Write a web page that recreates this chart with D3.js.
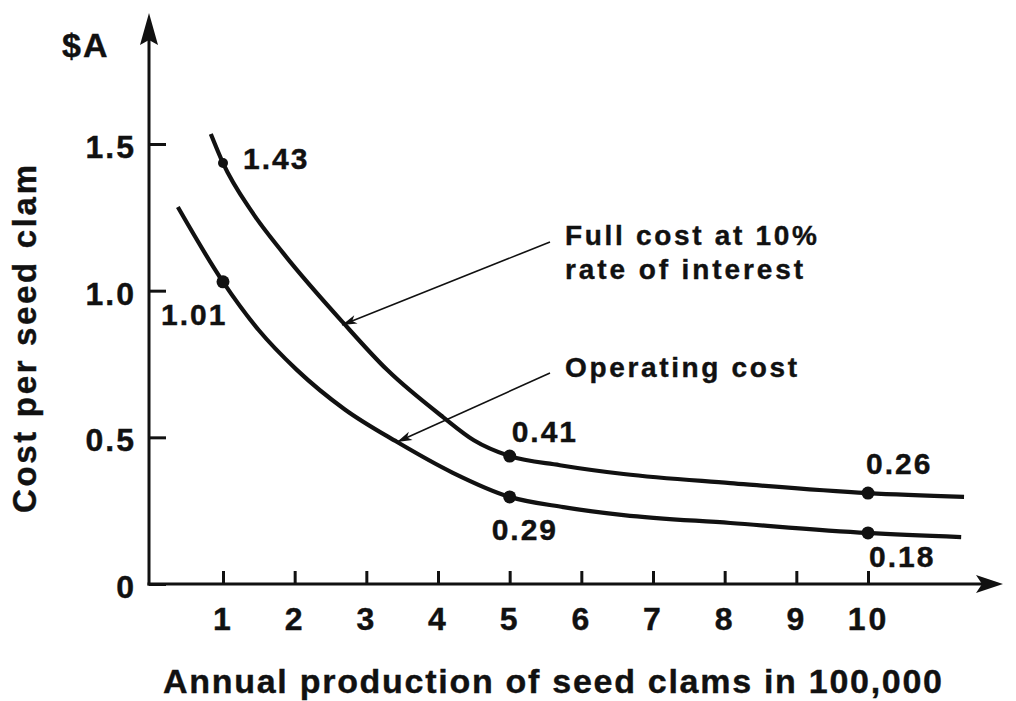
<!DOCTYPE html>
<html>
<head>
<meta charset="utf-8">
<script src="https://cdn.jsdelivr.net/npm/d3@7/dist/d3.min.js"></script>
<style>
  html, body { margin: 0; padding: 0; background: #fff; }
  svg { display: block; }
  text { font-family: "Liberation Sans", Arial, Helvetica, sans-serif; font-weight: bold; fill: #111; stroke: #111; stroke-width: 0.4; }
</style>
</head>
<body>
<svg id="chart" width="1016" height="701"></svg>
<script>
// ---- data ----
const xTicks = [1, 2, 3, 4, 5, 6, 7, 8, 9, 10];
const yTicks = [0, 0.5, 1.0, 1.5];
const yTickLabels = ["0", "0.5", "1.0", "1.5"];

// Full cost at 10% rate of interest (curve trace)
const fullX = [0.83, 1, 1.4, 1.84, 2.68, 3.29, 4.07, 4.5, 5, 5.7, 6.59, 8.08, 10, 11.34];
const fullY = [1.534, 1.435, 1.27, 1.128, 0.890, 0.730, 0.569, 0.49, 0.436, 0.405, 0.375, 0.344, 0.31, 0.297];
// Operating cost (curve trace)
const opX = [0.37, 1, 1.5, 2.03, 2.7, 3.43, 4.2, 5, 5.75, 6.59, 8.08, 10, 11.3];
const opY = [1.285, 1.03, 0.865, 0.730, 0.595, 0.484, 0.38, 0.297, 0.262, 0.235, 0.208, 0.174, 0.16];

// labelled points
const markX = [1, 5, 10];
const fullMarkY = [1.435, 0.436, 0.31];
const fullLabels = ["1.43", "0.41", "0.26"];
const opMarkY = [1.03, 0.297, 0.174];
const opLabels = ["1.01", "0.29", "0.18"];

const yTitle = "Cost per seed clam";
const xTitle = "Annual production of seed clams in 100,000";
const unitLabel = "$A";
const fullNote = ["Full cost at 10%", "rate of interest"];
const opNote = "Operating cost";

// ---- drawing ----
const svg = d3.select("#chart");
const ink = "#111";
const FONT = "'Liberation Sans', Arial, sans-serif";

const x = d3.scaleLinear().domain([1, 10]).range([223, 868]);
const y = d3.scaleLinear().domain([0, 1.5]).range([584, 144]);
const x0 = 149, y0 = 584;

// axes (ticks pointing inward)
const yAxis = d3.axisLeft(y).tickValues(yTicks)
  .tickFormat((d, i) => yTickLabels[i]).tickSizeInner(-17).tickSizeOuter(0).tickPadding(15);
const gy = svg.append("g").attr("transform", `translate(${x0},0)`).call(yAxis);
gy.select(".domain").remove();
gy.selectAll(".tick line").attr("stroke", ink).attr("stroke-width", 3);
gy.selectAll(".tick text").attr("font-size", 32).attr("fill", ink)
  .attr("letter-spacing", 2).attr("dy", "0.42em").attr("dx", 2)
  .style("font-family", FONT).style("font-weight", "bold");

const xAxis = d3.axisBottom(x).tickValues(xTicks).tickFormat(d3.format("d"))
  .tickSizeInner(-13).tickSizeOuter(0).tickPadding(23);
const gx = svg.append("g").attr("transform", `translate(0,${y0})`).call(xAxis);
gx.select(".domain").remove();
gx.selectAll(".tick text").attr("font-size", 32).attr("fill", ink).attr("letter-spacing", 3)
  .attr("dx", 0)
  .style("font-family", FONT).style("font-weight", "bold");
gx.selectAll(".tick line").attr("stroke", ink).attr("stroke-width", 3);

// axis lines with arrowheads
svg.append("line").attr("x1", x0).attr("y1", y0 + 1.5).attr("x2", x0).attr("y2", 30)
  .attr("stroke", ink).attr("stroke-width", 3);
svg.append("path").attr("d", `M${x0},13 L${x0 + 9},45 L${x0},40 L${x0 - 9},45 Z`).attr("fill", ink);
svg.append("line").attr("x1", x0 - 1.5).attr("y1", y0).attr("x2", 990).attr("y2", y0)
  .attr("stroke", ink).attr("stroke-width", 3);
svg.append("path").attr("d", `M1003,${y0} L976,${y0 - 9} L982,${y0} L976,${y0 + 9} Z`).attr("fill", ink);

// curves
const line = d3.line().x(d => x(d[0])).y(d => y(d[1])).curve(d3.curveMonotoneX);
svg.append("path").datum(d3.zip(fullX, fullY)).attr("d", line)
  .attr("fill", "none").attr("stroke", ink).attr("stroke-width", 4.2);
svg.append("path").datum(d3.zip(opX, opY)).attr("d", line)
  .attr("fill", "none").attr("stroke", ink).attr("stroke-width", 4.2);

// markers
svg.selectAll(".mf").data(markX).enter().append("circle")
  .attr("cx", d => x(d)).attr("cy", (d, i) => y(fullMarkY[i]))
  .attr("r", (d, i) => i === 0 ? 5 : 6.5).attr("fill", ink);
svg.selectAll(".mo").data(markX).enter().append("circle")
  .attr("cx", d => x(d)).attr("cy", (d, i) => y(opMarkY[i]))
  .attr("r", 6.5).attr("fill", ink);

// value labels (offsets from their points)
const fullOff = [[20, 6], [2, -14], [-2, -19]];
const opOff = [[-62, 43], [-18, 43], [1, 34]];
svg.selectAll(".lf").data(fullLabels).enter().append("text")
  .attr("x", (d, i) => x(markX[i]) + fullOff[i][0]).attr("y", (d, i) => y(fullMarkY[i]) + fullOff[i][1])
  .attr("font-size", 30).attr("letter-spacing", 2).text(d => d);
svg.selectAll(".lo").data(opLabels).enter().append("text")
  .attr("x", (d, i) => x(markX[i]) + opOff[i][0]).attr("y", (d, i) => y(opMarkY[i]) + opOff[i][1])
  .attr("font-size", 30).attr("letter-spacing", 2).text(d => d);

// annotations
function arrow(x1, y1, x2, y2) {
  svg.append("line").attr("x1", x1).attr("y1", y1).attr("x2", x2).attr("y2", y2)
    .attr("stroke", ink).attr("stroke-width", 1.6);
  const a = Math.atan2(y2 - y1, x2 - x1), L = 15, w = 4.5;
  const bx = x2 - L * Math.cos(a), by = y2 - L * Math.sin(a);
  const nx = -Math.sin(a) * w, ny = Math.cos(a) * w;
  const mx = x2 - (L - 4) * Math.cos(a), my = y2 - (L - 4) * Math.sin(a);
  svg.append("path").attr("d", `M${x2},${y2} L${bx + nx},${by + ny} L${mx},${my} L${bx - nx},${by - ny} Z`)
    .attr("fill", ink);
}
arrow(550, 242, 342, 325);
arrow(550, 373, 397, 442);

svg.append("text").attr("x", 565).attr("y", 245).attr("font-size", 28)
  .attr("textLength", 252).attr("lengthAdjust", "spacing").text(fullNote[0]);
svg.append("text").attr("x", 565).attr("y", 279).attr("font-size", 28)
  .attr("textLength", 238).attr("lengthAdjust", "spacing").text(fullNote[1]);
svg.append("text").attr("x", 565).attr("y", 377).attr("font-size", 28)
  .attr("textLength", 232).attr("lengthAdjust", "spacing").text(opNote);

// titles
svg.append("text").attr("x", 62).attr("y", 57).attr("font-size", 34)
  .attr("letter-spacing", 2).text(unitLabel);
svg.append("text").attr("x", 163).attr("y", 693).attr("font-size", 34)
  .attr("textLength", 779).attr("lengthAdjust", "spacing").text(xTitle);
svg.append("text").attr("transform", "translate(36,513) rotate(-90)").attr("font-size", 33)
  .attr("textLength", 348).attr("lengthAdjust", "spacing").text(yTitle);
</script>
</body>
</html>
